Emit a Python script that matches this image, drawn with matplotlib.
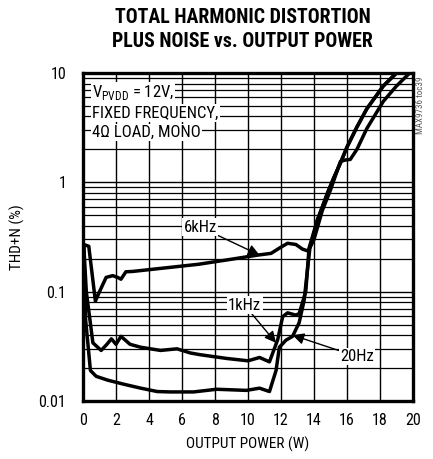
import matplotlib
matplotlib.use("Agg")
from matplotlib import pyplot as plt
from matplotlib.ticker import FixedLocator, NullFormatter

plt.rcParams['font.family'] = ['Roboto Condensed', 'DejaVu Sans']
plt.rcParams['mathtext.fontset'] = 'custom'
plt.rcParams['mathtext.rm'] = 'Roboto Condensed'

# THD+N (%) vs output power (W)
p_20hz = [0.05, 0.16, 0.45, 0.8, 1.5, 2.5, 3.5, 4.5, 5.3, 6.7, 8.1, 9.9, 10.7, 11.3,
          11.7, 11.9, 12.3, 12.7, 13.1, 13.4, 13.75, 14.2, 14.6, 14.85, 15.2, 15.6,
          16.0, 16.6, 17.2, 18.2, 19.0]
thd_20hz = [0.25, 0.055, 0.019, 0.0168, 0.0155, 0.0142, 0.0131, 0.0122, 0.0121, 0.0121,
            0.0128, 0.0125, 0.0131, 0.0122, 0.019, 0.031, 0.036, 0.039, 0.052, 0.083,
            0.25, 0.45, 0.65, 0.82, 1.1, 1.5, 2.1, 3.2, 4.7, 7.6, 10.0]

p_1khz = [0.05, 0.2, 0.6, 1.1, 1.45, 1.72, 2.0, 2.3, 2.85, 3.5, 4.7, 5.3, 5.7, 6.5,
          7.1, 8.7, 10.0, 10.7, 11.3, 11.8, 12.1, 12.4, 12.9, 13.1, 13.5, 13.7, 14.2,
          14.6, 14.85, 15.2, 15.6, 16.0, 16.6, 17.2, 18.2, 19.0]
thd_1khz = [0.26, 0.1, 0.034, 0.029, 0.033, 0.037, 0.033, 0.039, 0.033, 0.031, 0.029,
            0.0296, 0.030, 0.0275, 0.0265, 0.0245, 0.0233, 0.025, 0.0228, 0.0364, 0.059,
            0.064, 0.061, 0.063, 0.10, 0.25, 0.45, 0.65, 0.82, 1.1, 1.5, 2.1, 3.2, 4.7,
            7.6, 10.0]

p_6khz = [0.05, 0.35, 0.75, 1.0, 1.4, 1.8, 2.1, 2.3, 2.6, 3.0, 5.0, 7.0, 9.0, 10.5,
          11.4, 11.9, 12.4, 12.9, 13.3, 13.65, 14.0, 14.5, 15.0, 15.3, 15.6, 15.9,
          16.2, 16.6, 17.2, 18.2, 19.0, 19.8]
thd_6khz = [0.27, 0.26, 0.082, 0.1, 0.135, 0.14, 0.135, 0.13, 0.152, 0.153, 0.165,
            0.178, 0.198, 0.215, 0.224, 0.25, 0.277, 0.27, 0.245, 0.235, 0.3, 0.55,
            0.85, 1.15, 1.55, 1.6, 1.62, 2.0, 3.1, 5.5, 7.6, 10.0]

x_ticks = list(range(0, 21, 2))
y_ticks = [0.01, 0.1, 1, 10]
y_labels = ["0.01", "0.1", "1", "10"]

fig = plt.figure(figsize=(4.33, 4.59), dpi=100)
ax = fig.add_axes([0.1917, 0.1264, 0.7621, 0.7146])

ax.set_yscale("log")
ax.set_xlim(0, 20)
ax.set_ylim(0.01, 10)

# grid: every 2 W, and 1..9 in each decade
minor = [m * 10.0 ** e for e in (-2, -1, 0) for m in range(2, 10)]
ax.xaxis.set_major_locator(FixedLocator(x_ticks))
ax.yaxis.set_major_locator(FixedLocator(y_ticks))
ax.yaxis.set_minor_locator(FixedLocator(minor))
ax.yaxis.set_minor_formatter(NullFormatter())
ax.set_xticklabels([str(t) for t in x_ticks])
ax.set_yticklabels(y_labels)
ax.grid(True, which="major", color="black", linewidth=1.0)
ax.grid(True, which="minor", axis="y", color="black", linewidth=0.9)
ax.tick_params(which="both", length=0, labelsize=11.5)
ax.tick_params(axis="x", pad=9)
ax.tick_params(axis="y", pad=12)
ax.set_axisbelow(True)
for s in ax.spines.values():
    s.set_linewidth(2.4)

for p, t in [(p_20hz, thd_20hz), (p_1khz, thd_1khz), (p_6khz, thd_6khz)]:
    ax.plot(p, t, color="black", linewidth=2.5, solid_joinstyle="round", zorder=3)

box = dict(facecolor="white", edgecolor="none", pad=1.0)
ax.text(0.55, 6.6, r"V$_{\mathregular{PVDD}}$ = 12V,", fontsize=12, va="center", bbox=box, zorder=4)
ax.text(0.55, 4.3, "FIXED FREQUENCY,", fontsize=12, va="center", bbox=box, zorder=4)
ax.text(0.55, 2.85, "4Ω LOAD, MONO", fontsize=12, va="center", bbox=box, zorder=4)

arrow = dict(arrowstyle="-|>", color="black", linewidth=1.0, mutation_scale=17, shrinkA=0, shrinkB=0)
ax.annotate("6kHz", xy=(10.7, 0.216), xytext=(7.1, 0.39), fontsize=12,
            ha="center", va="center", bbox=box, arrowprops=arrow, zorder=4)
ax.annotate("1kHz", xy=(11.7, 0.034), xytext=(9.8, 0.075), fontsize=12,
            ha="center", va="center", bbox=box, arrowprops=arrow, zorder=4)
ax.annotate("20Hz", xy=(12.7, 0.040), xytext=(16.6, 0.0255), fontsize=12,
            ha="center", va="center", bbox=box, arrowprops=arrow, zorder=4)

ax.set_xlabel("OUTPUT POWER (W)", fontsize=11)
ax.set_ylabel("THD+N (%)", fontsize=11)
ax.xaxis.set_label_coords(0.5, -0.11)
ax.yaxis.set_label_coords(-0.175, 0.5)

fig.text(0.561, 0.961, "TOTAL HARMONIC DISTORTION", fontsize=14.3, fontweight="heavy",
         ha="center", va="center")
fig.text(0.561, 0.9085, "PLUS NOISE vs. OUTPUT POWER", fontsize=14.3, fontweight="heavy",
         ha="center", va="center")
fig.text(0.97, 0.771, "MAX9736 toc39", fontsize=6.5, color="#555555", rotation=90,
         ha="center", va="center")

fig.savefig("out.png", dpi=100)
